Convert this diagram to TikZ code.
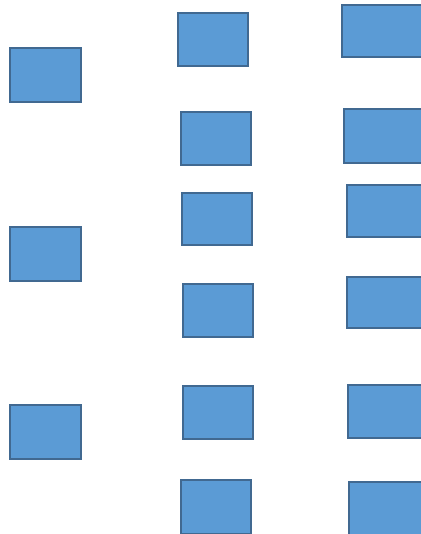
\documentclass[tikz,border=0pt]{standalone}
\definecolor{boxfill}{RGB}{91,155,213}
\definecolor{boxline}{RGB}{65,105,145}
\begin{document}
\begin{tikzpicture}[x=1pt,y=-1pt,
  bx/.style={draw=boxline,fill=boxfill,line width=1.3pt,inner sep=0pt,outer sep=0pt,minimum width=70pt,minimum height=53pt}]
\useasboundingbox (0,0) rectangle (420,534);
% column 1
\node[bx,minimum width=71pt,minimum height=54pt] (a1) at (45.5,75) {};
\node[bx,minimum width=71pt,minimum height=54pt] (a2) at (45.5,254) {};
\node[bx,minimum width=71pt,minimum height=54pt] (a3) at (45.5,432) {};
% column 2
\node[bx] (b1) at (213,39.5) {};
\node[bx] (b2) at (216,138.5) {};
\node[bx,minimum height=52pt] (b3) at (217,219) {};
\node[bx] (b4) at (218,310.5) {};
\node[bx] (b5) at (218,412.5) {};
\node[bx,minimum height=54pt] (b6) at (216,507) {};
% column 3
\node[bx,minimum width=83pt,minimum height=52pt] (c1) at (383.5,31) {};
\node[bx,minimum width=81pt,minimum height=54pt] (c2) at (384.5,136) {};
\node[bx,minimum width=78pt,minimum height=52pt] (c3) at (386,211) {};
\node[bx,minimum width=78pt,minimum height=51pt] (c4) at (386,302.5) {};
\node[bx,minimum width=77pt,minimum height=53pt] (c5) at (386.5,411.5) {};
\node[bx,minimum width=76pt,minimum height=54pt] (c6) at (387,509) {};
\end{tikzpicture}
\end{document}
